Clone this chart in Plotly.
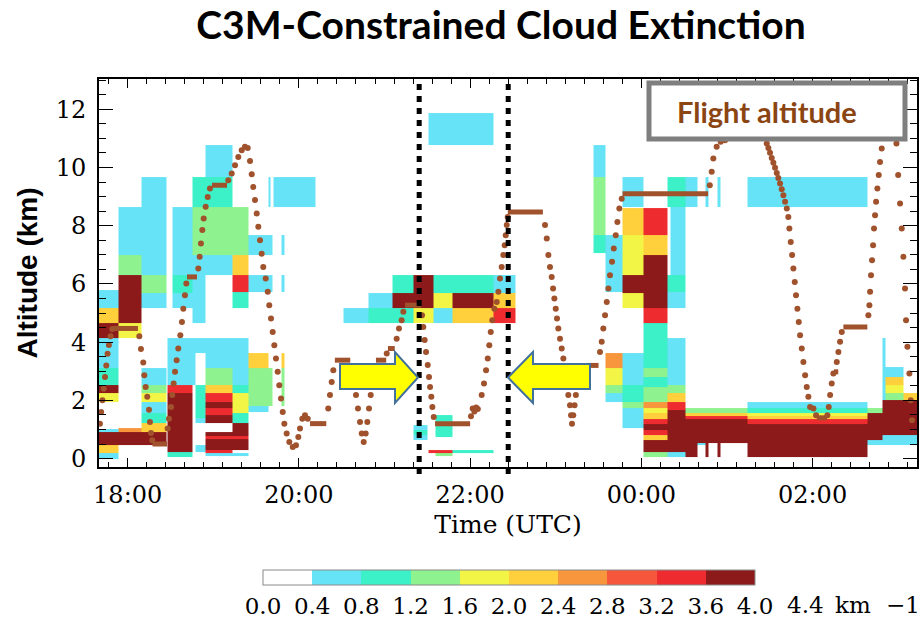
import numpy as np
import plotly.graph_objects as go

# ---------------- data ----------------
# extinction classes (km^-1): bin edges and colours
bin_edges = [0.0, 0.4, 0.8, 1.2, 1.6, 2.0, 2.4, 2.8, 3.2, 3.6, 4.0]
bin_colors = ["#ffffff", "#66e3f7", "#3cf0c8", "#8ef28e", "#f2f545",
              "#ffcf3c", "#f7963c", "#f5563c", "#ee2c30", "#8c1a1a"]
cbar_labels = ["0.0", "0.4", "0.8", "1.2", "1.6", "2.0", "2.4", "2.8", "3.2", "3.6", "4.0"]

# cloud blocks: (time start [h UTC, >24 = next day], time end, alt bottom [km], alt top, extinction)
cloud_blocks = [
    (17.60, 17.887, 5.16, 5.80, 0.6), (17.60, 17.887, 4.64, 5.16, 2.2),
    (17.60, 17.887, 4.13, 4.64, 3.8), (17.60, 17.887, 3.10, 4.13, 0.6),
    (17.60, 17.887, 2.52, 3.10, 1.0), (17.60, 17.887, 2.24, 2.52, 3.8),
    (17.60, 17.887, 1.93, 2.24, 1.8), (17.60, 17.887, 0.91, 1.00, 0.6),
    (17.60, 17.887, 0.46, 0.91, 3.8), (17.60, 17.887, 0.20, 0.46, 2.2),
    (17.60, 17.887, 0.00, 0.20, 0.6),
    (17.887, 18.155, 6.99, 8.64, 0.6), (17.887, 18.155, 6.30, 6.99, 1.4),
    (17.887, 18.155, 4.64, 6.30, 3.8), (17.887, 18.155, 4.13, 4.64, 1.8),
    (17.887, 18.155, 0.91, 1.04, 2.6), (17.887, 18.155, 0.46, 0.91, 3.8),
    (18.155, 18.447, 6.30, 9.67, 0.6), (18.155, 18.447, 5.68, 6.30, 1.4),
    (18.155, 18.447, 5.16, 5.68, 0.6), (18.155, 18.447, 2.52, 3.10, 0.6),
    (18.155, 18.447, 2.24, 2.52, 1.4), (18.155, 18.447, 1.93, 2.24, 1.8),
    (18.155, 18.447, 1.56, 1.93, 0.6), (18.155, 18.447, 1.21, 1.56, 1.0),
    (18.155, 18.447, 0.91, 1.21, 2.2), (18.155, 18.447, 0.46, 0.91, 3.8),
    (18.459, 18.786, 2.52, 4.13, 0.6), (18.459, 18.751, 2.24, 2.52, 3.4),
    (18.459, 18.751, 0.22, 2.24, 3.8), (18.459, 18.751, 0.05, 0.22, 1.0),
    (18.518, 18.751, 6.30, 8.64, 0.6), (18.518, 18.751, 5.68, 6.30, 1.0),
    (18.518, 18.751, 5.16, 5.68, 0.6),
    (18.751, 19.218, 8.64, 9.67, 1.0), (18.751, 19.218, 6.99, 8.64, 1.4),
    (18.751, 18.903, 4.64, 6.99, 0.6), (18.786, 19.218, 3.61, 4.13, 0.6),
    (18.786, 18.903, 1.38, 2.52, 1.0), (18.786, 18.903, 1.21, 1.38, 0.6),
    (18.786, 18.903, 0.22, 0.46, 0.6),
    (18.903, 19.218, 9.67, 10.77, 0.6), (18.903, 19.218, 6.30, 6.99, 0.6),
    (18.903, 19.218, 3.10, 3.61, 0.6), (18.903, 19.218, 2.52, 3.10, 1.4),
    (18.903, 19.218, 2.24, 2.52, 2.2), (18.903, 19.218, 1.93, 2.24, 3.4),
    (18.903, 19.218, 1.73, 1.93, 3.8), (18.903, 19.218, 1.50, 1.73, 3.4),
    (18.903, 19.218, 1.21, 1.50, 3.8), (18.903, 19.405, 0.30, 0.91, 3.8),
    (18.903, 19.405, 0.68, 0.76, 3.4), (18.903, 19.218, 0.18, 0.30, 3.4),
    (18.903, 19.405, 0.10, 0.18, 0.6),
    (19.218, 19.405, 6.99, 8.64, 1.4), (19.218, 19.405, 6.30, 6.99, 2.2),
    (19.218, 19.405, 5.72, 6.30, 3.4), (19.218, 19.405, 5.16, 5.72, 1.0),
    (19.218, 19.405, 2.52, 4.13, 0.6), (19.218, 19.405, 2.24, 2.52, 1.0),
    (19.218, 19.405, 1.56, 2.24, 1.8), (19.218, 19.405, 1.21, 1.56, 1.0),
    (19.218, 19.405, 0.91, 1.21, 3.8),
    (19.405, 19.639, 6.99, 7.68, 0.6), (19.405, 19.639, 5.72, 6.30, 0.6),
    (19.405, 19.639, 3.10, 3.61, 2.2), (19.405, 19.639, 1.80, 3.10, 1.4),
    (19.405, 19.639, 1.60, 1.80, 0.6),
    (19.645, 19.690, 6.99, 7.68, 0.6), (19.645, 19.690, 5.72, 6.30, 0.6),
    (19.645, 19.690, 1.80, 3.10, 1.4),
    (19.800, 19.830, 6.99, 7.68, 0.6), (19.800, 19.830, 5.72, 6.30, 0.6),
    (19.800, 19.830, 3.10, 3.61, 2.2), (19.800, 19.830, 1.80, 3.10, 1.4),
    (19.640, 19.670, 8.64, 9.67, 0.6), (19.698, 20.188, 8.64, 9.67, 0.6),
    (21.087, 21.337, 5.68, 6.30, 1.0), (21.337, 21.567, 5.68, 6.30, 3.8),
    (21.567, 22.268, 5.68, 6.30, 1.0), (22.268, 22.525, 5.68, 6.30, 0.6),
    (20.807, 21.087, 5.16, 5.68, 0.6), (21.087, 21.567, 5.16, 5.68, 3.8),
    (21.567, 21.788, 5.16, 5.68, 1.8), (21.788, 22.268, 5.16, 5.68, 3.8),
    (22.268, 22.525, 5.16, 5.68, 2.2),
    (20.515, 20.807, 4.64, 5.16, 0.6), (20.807, 21.337, 4.64, 5.16, 1.0),
    (21.337, 21.567, 4.64, 5.16, 1.8), (21.567, 21.788, 4.64, 5.16, 0.6),
    (21.788, 22.268, 4.64, 5.16, 2.2), (22.268, 22.525, 4.64, 5.16, 3.4),
    (21.508, 22.268, 10.77, 11.87, 0.6),
    (21.333, 21.500, 0.63, 1.15, 0.6), (21.333, 21.500, 0.80, 0.97, 1.0),
    (21.590, 21.788, 0.73, 1.50, 1.0),
    (21.508, 21.788, 0.18, 0.29, 3.4), (21.788, 22.268, 0.18, 0.29, 1.0),
    (21.590, 21.788, 0.07, 0.18, 1.4),
    (23.436, 23.577, 9.67, 10.77, 0.6), (23.436, 23.577, 7.68, 9.67, 1.4),
    (23.436, 23.577, 7.06, 7.68, 1.0), (23.577, 23.775, 5.72, 7.68, 0.6),
    (23.577, 23.775, 3.10, 3.61, 2.6), (23.577, 23.775, 2.52, 3.10, 1.8),
    (23.577, 23.775, 2.24, 2.52, 1.4), (23.577, 23.775, 1.93, 2.24, 0.6),
    (23.775, 24.021, 8.64, 9.67, 0.6), (23.775, 24.021, 7.68, 8.61, 2.2),
    (23.775, 24.021, 6.30, 7.68, 1.8), (23.775, 24.021, 5.68, 6.30, 3.8),
    (23.775, 24.021, 5.16, 5.68, 1.8), (23.775, 24.021, 2.52, 3.61, 0.6),
    (23.775, 24.021, 1.93, 2.52, 1.0), (23.775, 24.021, 1.73, 1.93, 1.4),
    (23.775, 24.021, 1.04, 1.73, 0.6),
    (24.021, 24.301, 7.68, 8.61, 3.4), (24.021, 24.301, 6.99, 7.68, 2.2),
    (24.021, 24.301, 5.16, 6.99, 3.8), (24.021, 24.301, 4.64, 5.16, 3.4),
    (24.021, 24.301, 3.10, 4.64, 1.0), (24.021, 24.301, 2.80, 3.10, 1.4),
    (24.021, 24.301, 2.45, 2.80, 1.0), (24.021, 24.301, 1.95, 2.45, 1.4),
    (24.021, 24.301, 1.72, 1.95, 2.6), (24.021, 24.301, 1.55, 1.72, 1.8),
    (24.021, 24.301, 1.37, 1.55, 2.2), (24.021, 24.301, 1.20, 1.37, 3.4),
    (24.021, 24.301, 0.97, 1.20, 3.8), (24.021, 24.301, 0.80, 0.97, 3.4),
    (24.021, 24.301, 0.63, 0.80, 2.2), (24.021, 24.301, 0.23, 0.63, 3.8),
    (24.021, 24.301, 0.05, 0.23, 1.4),
    (24.301, 24.512, 8.64, 9.67, 1.0), (24.336, 24.512, 6.30, 8.64, 0.6),
    (24.301, 24.512, 5.72, 6.30, 1.0), (24.301, 24.512, 5.16, 5.72, 0.6),
    (24.301, 24.512, 2.52, 4.13, 0.6), (24.301, 24.512, 2.24, 2.52, 1.4),
    (24.301, 24.512, 1.93, 2.24, 2.2), (24.301, 24.512, 1.65, 1.93, 3.4),
    (24.301, 24.512, 0.23, 1.65, 3.8), (24.301, 24.512, 0.05, 0.23, 0.6),
    (24.512, 24.652, 8.64, 9.67, 0.6),
    (24.512, 25.235, 1.56, 1.73, 1.4), (24.512, 25.235, 1.45, 1.56, 2.2),
    (24.512, 25.235, 1.37, 1.45, 3.4), (24.512, 24.652, 0.05, 1.37, 3.8),
    (24.652, 25.235, 0.52, 1.37, 3.8), (24.652, 24.745, 0.45, 0.52, 0.6),
    (24.745, 24.780, 0.05, 0.52, 3.8), (24.885, 24.920, 0.05, 0.52, 3.8),
    (24.745, 24.780, 8.64, 9.67, 0.6), (24.885, 24.920, 8.64, 9.67, 0.6),
    (25.235, 26.637, 8.64, 9.67, 0.6),
    (25.235, 26.637, 1.73, 1.95, 0.6), (25.235, 26.637, 1.56, 1.73, 1.0),
    (25.235, 26.637, 1.45, 1.56, 1.8), (25.235, 26.637, 1.37, 1.45, 2.2),
    (25.235, 26.637, 1.20, 1.37, 3.4), (25.235, 26.637, 0.05, 1.20, 3.8),
    (26.637, 26.813, 1.56, 1.73, 1.4), (26.637, 26.813, 0.63, 1.56, 3.8),
    (26.637, 26.813, 0.46, 0.63, 0.6),
    (26.813, 26.850, 2.00, 4.13, 0.6), (26.850, 27.058, 2.80, 3.15, 0.6),
    (26.850, 27.058, 2.52, 2.80, 2.2), (26.850, 27.058, 2.24, 2.52, 1.8),
    (26.850, 27.058, 2.00, 2.24, 1.4), (26.813, 27.300, 0.80, 2.00, 3.8),
    (26.813, 27.300, 0.46, 0.80, 0.6), (27.058, 27.300, 2.00, 2.24, 2.2),
]

# flight altitude: individually read dots (climbs / descents)
track_time = [
    17.676, 17.690, 17.705, 17.720, 17.735, 17.750, 17.765, 17.780, 17.800, 17.820,
    18.136, 18.155, 18.182, 18.194, 18.210, 18.229, 18.249, 18.260, 18.272, 18.287,
    18.467, 18.482, 18.506, 18.521, 18.537, 18.553, 18.572, 18.591, 18.615, 18.634, 18.650, 18.669, 18.685,
    18.825, 18.841, 18.856, 18.872, 18.888, 18.911, 18.935, 18.961,
    19.175, 19.215, 19.254, 19.292, 19.332, 19.370, 19.402,
    19.429, 19.449, 19.467, 19.487, 19.507, 19.526, 19.546, 19.565, 19.584, 19.612,
    19.636, 19.654, 19.674, 19.694, 19.713, 19.732, 19.752, 19.771, 19.791, 19.811,
    19.830, 19.857, 19.888, 19.928, 19.966,
    19.993, 20.013, 20.040, 20.071, 20.103,
    20.343, 20.363, 20.383, 20.402,
    20.617, 20.644, 20.667, 20.690, 20.714, 20.734, 20.757,
    20.780, 20.799, 20.819, 20.839, 20.858, 20.881,
    21.026, 21.142, 21.169, 21.200, 21.220,
    21.438, 21.453, 21.469, 21.485, 21.505, 21.520, 21.532, 21.547, 21.559, 21.575,
    22.010, 22.030, 22.050, 22.070, 22.090,
    22.135, 22.162, 22.186, 22.206, 22.224, 22.241, 22.259, 22.283, 22.311, 22.330,
    22.349, 22.369, 22.388, 22.404, 22.416, 22.428, 22.439,
    22.875, 22.895, 22.914, 22.933, 22.953, 22.969, 22.984, 23.000, 23.015, 23.030,
    23.050, 23.070, 23.089, 23.109, 23.128, 23.147, 23.167, 23.179, 23.190,
    23.205, 23.220, 23.235, 23.264, 23.300, 23.330,
    23.517, 23.537, 23.556, 23.576, 23.596, 23.615, 23.634, 23.658, 23.678, 23.701,
    23.720, 23.743, 23.771,
    24.800, 24.822, 24.841, 24.880, 24.927, 24.978,
    25.465, 25.484, 25.503, 25.523, 25.542, 25.562, 25.582, 25.600, 25.620, 25.640,
    25.659, 25.679, 25.699, 25.717, 25.729, 25.745, 25.761, 25.776, 25.792, 25.807,
    25.823, 25.839, 25.854, 25.874, 25.893, 25.913, 25.932, 25.951, 25.971, 26.010, 26.041,
    26.173, 26.189, 26.205, 26.224, 26.243, 26.283, 26.302, 26.321, 26.341,
    26.652, 26.664, 26.672, 26.683, 26.695, 26.707, 26.718, 26.730, 26.742, 26.757,
    26.773, 26.788, 26.808,
    26.980, 27.000, 27.022, 27.042, 27.061, 27.080, 27.092, 27.108, 27.131, 27.147, 27.162,
]
track_alt = [
    1.20, 1.60, 2.00, 2.40, 2.80, 3.20, 3.60, 3.90, 4.20, 4.45,
    4.20, 3.76, 3.30, 2.86, 2.46, 2.12, 1.68, 1.26, 0.88, 0.63,
    1.03, 1.37, 1.77, 2.18, 2.58, 2.98, 3.38, 3.78, 4.24, 4.69, 5.15, 5.61, 6.01,
    6.53, 6.93, 7.39, 7.85, 8.25, 8.65, 8.99, 9.28,
    9.56, 9.79, 10.08, 10.36, 10.59, 10.71, 10.67,
    10.22, 9.77, 9.33, 8.88, 8.42, 7.96, 7.50, 7.04, 6.58, 6.19,
    5.73, 5.27, 4.81, 4.35, 3.89, 3.44, 2.98, 2.52, 2.06, 1.60,
    1.20, 0.86, 0.57, 0.40, 0.46,
    0.74, 1.03, 1.37, 1.49, 1.37,
    1.72, 2.18, 2.63, 3.03,
    3.09, 2.63, 2.18, 1.72, 1.26, 0.86, 0.57,
    0.86, 1.26, 1.72, 2.18, 2.63, 3.03,
    3.61, 4.12, 4.47, 4.75, 5.04,
    4.92, 4.52, 4.07, 3.66, 3.21, 2.80, 2.46, 2.12, 1.77, 1.43,
    1.45, 1.72, 1.62, 1.75, 1.70,
    2.18, 2.58, 3.03, 3.44, 3.89, 4.35, 4.75, 5.15, 5.38, 5.73,
    6.19, 6.58, 6.99, 7.33, 7.67, 8.02, 8.30,
    8.02, 7.56, 6.99, 6.58, 6.24, 5.84, 5.50, 5.15, 4.81, 4.47,
    4.12, 3.78, 3.44, 3.09, 2.63, 2.18, 1.83, 1.49, 1.20,
    1.49, 1.83, 2.18, 2.52, 2.86, 3.09,
    3.66, 4.01, 4.47, 4.92, 5.38, 5.84, 6.30, 6.76, 7.22, 7.67,
    8.13, 8.59, 8.93,
    9.39, 9.85, 10.31, 10.71, 10.88, 10.94,
    10.82, 10.67, 10.51, 10.33, 10.16, 9.99, 9.81, 9.64, 9.45, 9.25,
    9.05, 8.82, 8.59, 8.30, 7.90, 7.44, 6.99, 6.53, 6.07, 5.61,
    5.15, 4.69, 4.24, 3.78, 3.32, 2.86, 2.46, 2.12, 1.77, 1.72, 1.49,
    1.49, 1.77, 2.18, 2.58, 2.92, 3.32, 3.66, 4.01, 4.35,
    4.92, 5.27, 5.73, 6.30, 6.81, 7.33, 7.90, 8.36, 8.82, 9.28,
    9.74, 10.19, 10.65,
    10.82, 9.74, 8.76, 7.90, 6.93, 5.84, 4.75, 3.84, 2.92, 2.00, 1.32,
]
# level flight legs: (start, end, altitude)
level_legs = [
    (17.82, 18.12, 4.47), (18.29, 18.46, 0.50), (18.693, 18.81, 6.24),
    (18.985, 19.16, 9.39), (20.13, 20.32, 1.20), (20.42, 20.60, 3.38),
    (20.90, 21.02, 3.38), (21.04, 21.12, 3.78), (21.24, 21.43, 5.27),
    (21.59, 22.00, 1.20), (22.44, 22.85, 8.47), (23.37, 23.50, 3.20),
    (23.78, 24.78, 9.10), (26.05, 26.17, 1.40), (26.25, 26.30, 2.98),
    (26.36, 26.64, 4.52),
]
# time window marked by the dotted lines (h)
window_times = [21.405, 22.445]

x_tickvals = [18, 20, 22, 24, 26]
x_ticktext = ["18:00", "20:00", "22:00", "00:00", "02:00"]

# ---------------- figure ----------------
W, H = 923, 620
ML, MR, MT, MB = 99, 6, 79, 153
PW, PH = W - ML - MR, H - MT - MB
XR = [17.665, 27.22]
YR = [-0.29, 13.04]


def px(x):  # pixel x -> paper
    return (x - ML) / PW


def py(y):  # pixel y -> paper
    return (H - MB - y) / PH


# heatmap grid from blocks
xe = sorted(set([b[0] for b in cloud_blocks] + [b[1] for b in cloud_blocks]))
ye = sorted(set([b[2] for b in cloud_blocks] + [b[3] for b in cloud_blocks]))
xc = (np.array(xe[:-1]) + np.array(xe[1:])) / 2
yc = (np.array(ye[:-1]) + np.array(ye[1:])) / 2
z = np.full((len(yc), len(xc)), np.nan)
for t0, t1, a0, a1, v in cloud_blocks:
    mx = (xc > t0) & (xc < t1)
    my = (yc > a0) & (yc < a1)
    z[np.ix_(my, mx)] = v

cscale = []
n = len(bin_colors)
for i, c in enumerate(bin_colors):
    cscale.append([i / n, c])
    cscale.append([(i + 1) / n, c])

fig = go.Figure()
fig.add_trace(go.Heatmap(
    x=xe, y=ye, z=z, zmin=bin_edges[0], zmax=bin_edges[-1], colorscale=cscale,
    hoverinfo="skip",
    colorbar=dict(
        orientation="h", lenmode="pixels", len=492, thicknessmode="pixels", thickness=15,
        x=px(509), xanchor="center", y=py(570), yanchor="top", ypad=0, xpad=0,
        tickmode="array", tickvals=bin_edges, ticktext=cbar_labels,
        ticks="", ticklen=0,
        tickfont=dict(family="DejaVu Serif", size=23, color="black"),
        outlinecolor="#8a8a8a", outlinewidth=1,
    ),
))

brown = "#a0522d"
lx, ly = [], []
for t0, t1, a in level_legs:
    lx += [t0, t1, None]
    ly += [a, a, None]
fig.add_trace(go.Scatter(x=lx, y=ly, mode="lines", line=dict(color=brown, width=5),
                         hoverinfo="skip", showlegend=False))
fig.add_trace(go.Scatter(x=track_time, y=track_alt, mode="markers",
                         marker=dict(color=brown, size=6), hoverinfo="skip", showlegend=False))

shapes = []
for t in window_times:
    shapes.append(dict(type="line", xref="x", yref="paper", x0=t, x1=t, y0=py(474), y1=1.0,
                       line=dict(color="black", width=5, dash="6px,6px"), layer="above"))


def arrow_path(x_tail, x_base, x_tip, yb0, yb1, yh0, yh1, ymid):
    pts = [(x_tail, yb0), (x_base, yb0), (x_base, yh0), (x_tip, ymid),
           (x_base, yh1), (x_base, yb1), (x_tail, yb1)]
    return "M " + " L ".join(f"{a},{b}" for a, b in pts) + " Z"


def tpx(x):
    return XR[0] + (x - ML) / PW * (XR[1] - XR[0])


def apx(y):
    return YR[0] + (H - MB - y) / PH * (YR[1] - YR[0])


for tail, base, tip in [(340, 395, 418), (590, 533, 508)]:
    shapes.append(dict(type="path", xref="x", yref="y",
                       path=arrow_path(tpx(tail), tpx(base), tpx(tip), apx(364), apx(389),
                                       apx(352), apx(403), apx(377.5)),
                       fillcolor="#ffff00", line=dict(color="#41719c", width=2), layer="above"))

shapes.append(dict(type="rect", xref="paper", yref="paper", x0=px(649), x1=px(905),
                   y0=py(139), y1=py(83), fillcolor="white",
                   line=dict(color="#7f7f7f", width=5), layer="above"))

ann_common = dict(xref="paper", yref="paper", showarrow=False, xanchor="center", yanchor="middle")
annotations = [
    dict(text="<b>Flight altitude</b>", x=px(767), y=py(111),
         font=dict(family="Lato", size=29, color="#8b4513"), **ann_common),
    dict(text="4.4", x=px(805), y=py(605),
         font=dict(family="DejaVu Serif", size=23, color="black"), **ann_common),
    dict(text="km", x=px(853), y=py(605),
         font=dict(family="DejaVu Serif", size=23, color="black"), **ann_common),
    dict(text="\u22121", x=px(903), y=py(605),
         font=dict(family="DejaVu Serif", size=23, color="black"), **ann_common),
]

axis_common = dict(showline=True, linecolor="black", linewidth=2, mirror="allticks",
                   ticks="inside", tickcolor="black", showgrid=False, zeroline=False,
                   tickfont=dict(family="DejaVu Serif", size=24, color="black"))

fig.update_layout(
    width=W, height=H, margin=dict(l=ML, r=MR, t=MT, b=MB, autoexpand=False),
    paper_bgcolor="white", plot_bgcolor="white", showlegend=False,
    title=dict(text="<b>C3M-Constrained Cloud Extinction</b>", x=501 / W, xref="container",
               xanchor="center", y=1 - 25 / H, yref="container", yanchor="middle",
               font=dict(family="Lato", size=39, color="black")),
    xaxis=dict(range=XR, tickvals=x_tickvals, ticktext=x_ticktext, ticklen=9,
               ticklabelstandoff=5,
               minor=dict(ticks="inside", tick0=18, dtick=2 / 9, ticklen=5, tickcolor="black"),
               title=dict(text="Time (UTC)", standoff=8,
                          font=dict(family="DejaVu Serif", size=25, color="black")),
               **axis_common),
    yaxis=dict(range=YR, tickvals=[0, 2, 4, 6, 8, 10, 12], ticklen=14,
               ticklabelstandoff=6,
               minor=dict(ticks="inside", dtick=0.5, ticklen=7, tickcolor="black"),
               title=dict(text="<b>Altitude (km)</b>", standoff=10,
                          font=dict(family="Liberation Sans", size=28, color="black")),
               **axis_common),
    shapes=shapes, annotations=annotations,
)

fig.write_html("out.html")
